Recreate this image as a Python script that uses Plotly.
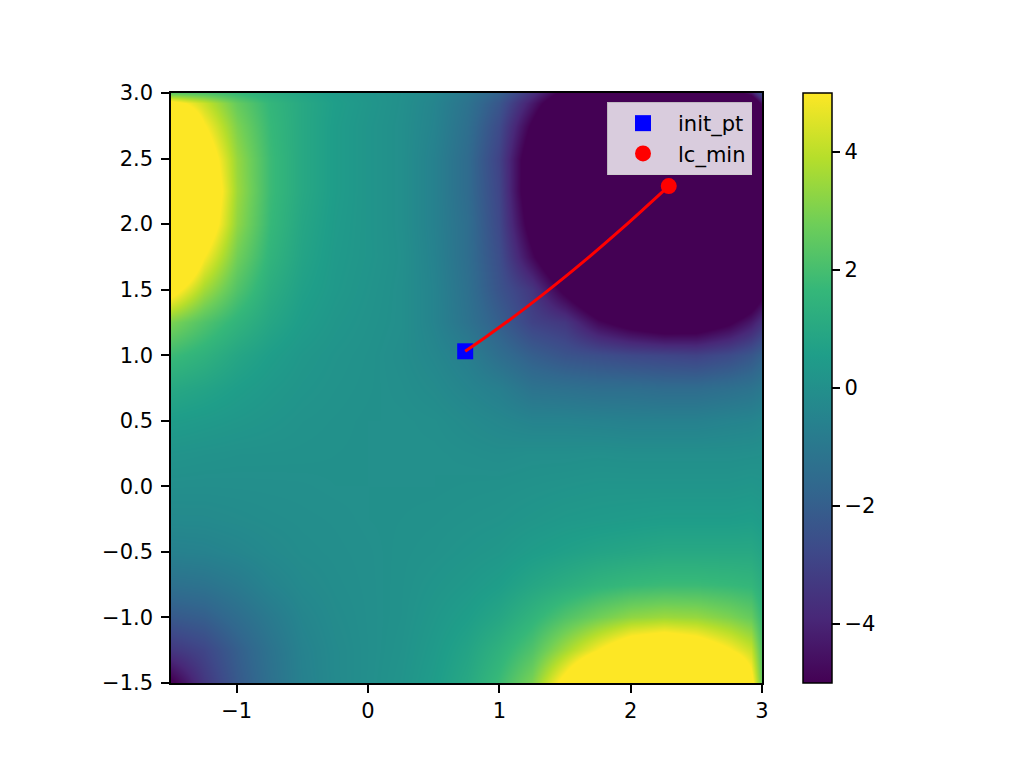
import plotly.graph_objects as go

# grid coordinates (x and y share the same grid)
xs = [-1.5, -1.25, -1.0, -0.75, -0.5, -0.25, 0.0, 0.25, 0.5, 0.75, 1.0, 1.25,
      1.5, 1.75, 2.0, 2.25, 2.5, 2.75, 2.92, 3.0]
ys = list(xs)

# surface values, rows from y=-1.5 (bottom) to y=3.0 (top)
z_rows = [
    [-5.2, -3.4, -2.2, -1.3, -0.6, -0.25, -0.05, 0.15, 0.5, 1.0, 1.8, 3.0, 5.6, 8.5, 10, 10, 10, 8.5, 5.6, 2.5],
    [-3.4, -2.9, -2.0, -1.2, -0.55, -0.24, -0.06, 0.1, 0.4, 0.8, 1.4, 2.2, 3.6, 5.0, 6.3, 6.8, 6.2, 5.1, 4.2, 2.2],
    [-2.2, -2.0, -1.45, -0.9, -0.42, -0.18, -0.05, 0.06, 0.3, 0.55, 0.9, 1.5, 2.2, 2.8, 3.3, 3.5, 3.4, 3.0, 2.6, 1.7],
    [-1.3, -1.2, -0.9, -0.5, -0.25, -0.12, -0.04, 0.05, 0.2, 0.35, 0.55, 0.9, 1.2, 1.5, 1.7, 1.8, 1.8, 1.7, 1.6, 1.2],
    [-0.6, -0.55, -0.42, -0.25, -0.13, -0.08, -0.03, 0.04, 0.1, 0.2, 0.3, 0.5, 0.65, 0.8, 0.9, 1.0, 1.0, 1.0, 1.0, 0.8],
    [-0.25, -0.24, -0.18, -0.12, -0.08, -0.05, 0.0, 0.02, 0.05, 0.1, 0.15, 0.25, 0.35, 0.4, 0.45, 0.5, 0.5, 0.5, 0.55, 0.45],
    [-0.05, -0.06, -0.05, -0.04, -0.03, 0.0, 0.0, 0.0, 0.0, 0.03, 0.05, 0.1, 0.15, 0.2, 0.2, 0.2, 0.2, 0.2, 0.25, 0.2],
    [0.15, 0.1, 0.06, 0.05, 0.04, 0.02, 0.0, 0.0, 0.0, -0.05, -0.1, -0.05, -0.05, -0.02, -0.05, -0.05, -0.05, -0.05, -0.02, 0.0],
    [0.5, 0.4, 0.3, 0.2, 0.1, 0.05, 0.0, 0.0, -0.05, -0.2, -0.35, -0.5, -0.5, -0.55, -0.6, -0.6, -0.6, -0.5, -0.45, -0.35],
    [1.0, 0.8, 0.55, 0.35, 0.2, 0.1, 0.03, -0.05, -0.2, -0.45, -0.7, -1.2, -1.3, -1.4, -1.4, -1.5, -1.5, -1.35, -1.2, -1.0],
    [1.8, 1.4, 0.9, 0.55, 0.3, 0.15, 0.05, -0.1, -0.35, -0.7, -1.4, -2.0, -2.4, -2.6, -2.8, -2.9, -3.0, -2.7, -2.3, -1.9],
    [3.0, 2.2, 1.5, 0.9, 0.5, 0.25, 0.1, -0.05, -0.5, -1.2, -2.0, -3.0, -3.4, -4.8, -5.6, -6.1, -6.0, -5.2, -4.3, -3.6],
    [5.6, 3.6, 2.2, 1.2, 0.65, 0.35, 0.15, -0.05, -0.5, -1.3, -2.4, -3.4, -5.3, -7.0, -8.0, -8.5, -8.5, -8.0, -6.5, -5.5],
    [8.5, 5.0, 2.8, 1.5, 0.8, 0.4, 0.2, -0.02, -0.55, -1.4, -2.6, -4.8, -7.0, -8.5, -9.5, -10, -10, -9.5, -8.5, -6.8],
    [10, 6.3, 3.3, 1.7, 0.9, 0.45, 0.2, -0.05, -0.6, -1.4, -2.8, -5.6, -8.0, -9.5, -10, -10, -10, -10, -9.5, -7.2],
    [10, 6.8, 3.5, 1.8, 1.0, 0.5, 0.2, -0.05, -0.6, -1.5, -2.9, -6.1, -8.5, -10, -10, -10, -10, -10, -9.5, -7.2],
    [10, 6.2, 3.4, 1.8, 1.0, 0.5, 0.2, -0.05, -0.6, -1.5, -3.0, -6.0, -8.5, -10, -10, -10, -10, -10, -9.3, -7.0],
    [8.5, 5.1, 3.0, 1.7, 1.0, 0.5, 0.2, -0.05, -0.5, -1.35, -2.7, -5.2, -8.0, -9.5, -10, -10, -10, -9.5, -8.5, -6.0],
    [5.6, 4.2, 2.6, 1.6, 1.0, 0.55, 0.25, -0.02, -0.45, -1.2, -2.3, -4.3, -6.5, -8.5, -9.5, -9.5, -9.3, -8.5, -7.0, -4.5],
    [2.5, 2.2, 1.7, 1.2, 0.8, 0.45, 0.2, 0.0, -0.35, -1.0, -1.9, -3.6, -5.5, -6.8, -7.2, -7.2, -7.0, -6.0, -4.5, -2.5],
]

# optimisation path
path_x = [0.74, 0.9, 1.05, 1.2, 1.35, 1.5, 1.65, 1.8, 1.95, 2.1, 2.29]
path_y = [1.03, 1.141, 1.249, 1.361, 1.477, 1.597, 1.721, 1.849, 1.980, 2.116, 2.29]
init_pt = (0.74, 1.03)
lc_min = (2.29, 2.29)

# ticks
x_tickvals = [-1, 0, 1, 2, 3]
x_ticktext = ["\u22121", "0", "1", "2", "3"]
y_tickvals = [-1.5, -1.0, -0.5, 0.0, 0.5, 1.0, 1.5, 2.0, 2.5, 3.0]
y_ticktext = ["\u22121.5", "\u22121.0", "\u22120.5", "0.0", "0.5", "1.0", "1.5", "2.0", "2.5", "3.0"]
cb_tickvals = [-4, -2, 0, 2, 4]
cb_ticktext = ["\u22124", "\u22122", "0", "2", "4"]

FONT = "DejaVu Sans"
FS = 21

# page offset compensation (body margin)
OFF = 8
W, H = 1024 - OFF, 768 - OFF
L, T = 171 - OFF, 93 - OFF
PW, PH = 591, 590

fig = go.Figure()
fig.add_trace(go.Heatmap(
    x=xs, y=ys, z=z_rows, zmin=-5, zmax=5, colorscale="Viridis", zsmooth="best",
    hoverinfo="skip",
    colorbar=dict(
        x=(803 - 171) / PW, xanchor="left", xpad=0, ypad=0,
        y=0.5, yanchor="middle", len=1, lenmode="fraction",
        thickness=29, thicknessmode="pixels",
        outlinewidth=1.5, outlinecolor="black",
        ticks="outside", ticklen=8, tickwidth=1.6, tickcolor="black",
        tickvals=cb_tickvals, ticktext=cb_ticktext,
        tickfont=dict(family=FONT, size=FS, color="black"),
    ),
))
fig.add_trace(go.Scatter(
    x=[init_pt[0]], y=[init_pt[1]], mode="markers", name="init_pt",
    marker=dict(symbol="square", size=16, color="blue"),
))
fig.add_trace(go.Scatter(
    x=path_x, y=path_y, mode="lines", showlegend=False,
    line=dict(color="red", width=3, shape="spline"),
))
fig.add_trace(go.Scatter(
    x=[lc_min[0]], y=[lc_min[1]], mode="markers", name="lc_min",
    marker=dict(symbol="circle", size=16, color="red"),
))

axis_common = dict(
    showgrid=False, zeroline=False, showline=True, mirror=True,
    linecolor="black", linewidth=1.5, ticks="outside", ticklen=8,
    tickwidth=1.6, tickcolor="black",
    tickfont=dict(family=FONT, size=FS, color="black"),
)
fig.update_xaxes(range=[-1.5, 3.0], tickvals=x_tickvals, ticktext=x_ticktext, **axis_common)
fig.update_yaxes(range=[-1.5, 3.0], tickvals=y_tickvals, ticktext=y_ticktext,
                 ticklabelstandoff=4, **axis_common)

fig.update_layout(
    width=W, height=H,
    margin=dict(l=L, r=W - L - PW, t=T, b=H - T - PH, autoexpand=False),
    paper_bgcolor="white", plot_bgcolor="white",
    font=dict(family=FONT, size=FS, color="black"),
    legend=dict(
        x=(752 - 171) / PW, y=(683 - 102) / PH, xanchor="right", yanchor="top",
        bgcolor="rgba(255,255,255,0.8)", bordercolor="rgba(204,204,204,0.9)",
        borderwidth=1, font=dict(family=FONT, size=FS, color="black"),
        itemwidth=60, tracegroupgap=4,
    ),
)

fig.write_html("out.html")
